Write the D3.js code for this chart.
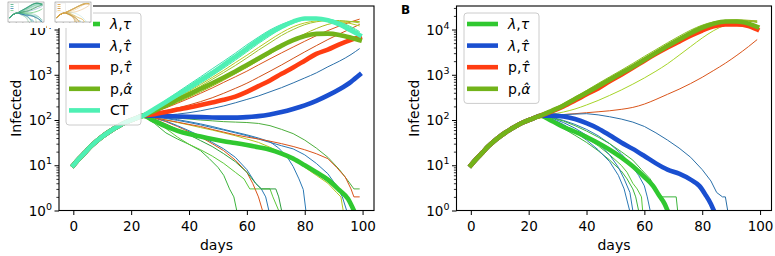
<!DOCTYPE html>
<html>
<head>
<meta charset="utf-8">
<script src="https://cdn.jsdelivr.net/npm/d3@7"></script>
<style>
body { margin: 0; background: #fff; }
text { font-family: "DejaVu Sans", sans-serif; }
</style>
</head>
<body>
<svg id="fig" width="775" height="256"></svg>
<script>
// ---- data ----
const earlyDays = [0, 2, 4, 6, 8, 10, 12, 14, 16, 18, 20, 22, 24];
const earlyVals = [10, 14, 19, 26, 34, 43, 53, 64, 76, 88, 100, 112, 124];
const gridDays = [28, 32, 36, 40, 44, 48, 52, 56, 60, 64, 68, 72, 76, 80, 84, 88, 92, 96, 99];
const xTicks = [0, 20, 40, 60, 80, 100];
const yTicks = [1, 10, 100, 1000, 10000];

// panel A, rising runs (values on gridDays)
const A_ct = [175, 250, 360, 520, 760, 1100, 1650, 2500, 3800, 5800, 8500, 11500, 15000, 17500, 17500, 16000, 13000, 9500, 7500];
const A_ct1 = [185, 275, 410, 610, 900, 1350, 2000, 3000, 4600, 6800, 9800, 13000, 16000, 17500, 17000, 15000, 12000, 9000, 7000];
const A_ct2 = [165, 225, 320, 450, 650, 950, 1400, 2100, 3200, 4900, 7300, 10500, 13800, 16500, 17500, 16800, 14500, 11000, 8500];
const A_ct3 = [180, 260, 380, 560, 820, 1200, 1800, 2700, 4100, 6200, 9000, 12300, 15500, 17300, 17200, 15500, 12500, 9200, 7200];
const A_ct4 = [170, 240, 340, 490, 700, 1020, 1500, 2300, 3500, 5300, 7900, 11000, 14500, 17000, 17800, 17000, 14800, 11500, 9000];
const A_pa = [160, 210, 280, 370, 490, 650, 870, 1180, 1650, 2300, 3200, 4400, 5800, 7200, 8000, 8100, 7600, 6600, 5800];
const A_pa1 = [165, 225, 310, 430, 610, 870, 1250, 1850, 2700, 4000, 5900, 8500, 11500, 14000, 15500, 15800, 15000, 13500, 12000];
const A_pa2 = [160, 215, 290, 400, 560, 790, 1120, 1600, 2350, 3500, 5100, 7400, 10000, 12800, 14800, 15800, 15800, 15000, 14000];
const A_pa3 = [150, 190, 245, 320, 420, 560, 760, 1050, 1450, 2050, 2900, 4100, 5800, 8000, 10500, 13000, 14500, 15000, 15000];
const A_pt = [135, 150, 170, 190, 215, 245, 280, 330, 420, 560, 750, 1050, 1450, 2050, 2900, 3600, 4700, 5900, 6800];
const A_pt1 = [150, 185, 235, 300, 390, 510, 680, 900, 1200, 1650, 2250, 3050, 4100, 5500, 7300, 9500, 12000, 14800, 17000];
const A_pt2 = [140, 160, 185, 215, 255, 310, 390, 500, 650, 880, 1200, 1650, 2300, 3200, 4400, 6000, 8000, 10500, 13000];
const A_lh = [124, 122, 120, 118, 116, 114, 113, 113, 116, 122, 133, 150, 175, 210, 265, 350, 480, 700, 1000];
const A_lh1 = [125, 128, 135, 145, 160, 180, 205, 240, 285, 340, 420, 520, 660, 850, 1100, 1500, 2000, 2800, 3800];

// panel A, dying-out runs ([day, infected])
const A_lt = [[28, 95], [32, 72], [36, 58], [40, 49], [44, 43], [48, 38], [52, 34], [56, 31], [60, 28], [64, 25], [68, 22], [72, 18], [76, 14], [80, 10], [84, 7], [88, 4.8], [92, 2.8], [95, 1.8], [97, 1]];
const A_d1 = [[28, 85], [32, 52], [36, 38], [40, 29], [44, 21], [47, 14], [50, 9], [52, 6], [54, 3], [55.5, 2], [56.5, 1]];
const A_d2 = [[28, 95], [32, 65], [36, 42], [40, 29], [44, 22], [48, 16], [52, 11], [56, 7], [59, 5], [61, 3], [68, 3], [69, 2], [71, 1]];
const A_d3 = [[28, 110], [32, 92], [36, 72], [40, 55], [44, 42], [48, 30], [52, 21], [56, 13], [60, 7], [62, 4], [64, 2], [65.4, 1]];
const A_d4 = [[28, 112], [32, 95], [36, 75], [40, 58], [44, 44], [48, 32], [52, 23], [56, 15], [60, 8], [63, 4], [65, 3], [66.5, 2], [67.6, 1]];
const A_d5 = [[28, 105], [32, 82], [36, 62], [40, 47], [44, 35], [48, 26], [52, 18], [56, 12], [60, 7], [63, 4], [65, 3], [70, 3], [71, 2], [72, 1]];
const A_d6 = [[28, 120], [32, 112], [36, 102], [40, 92], [44, 82], [48, 72], [52, 62], [56, 54], [60, 47], [64, 40], [68, 33], [71, 24], [74, 15], [76, 9.4], [78, 5], [79.5, 2.9], [80.4, 1]];
const A_d7 = [[28, 115], [32, 100], [36, 88], [40, 78], [44, 68], [48, 60], [52, 52], [56, 45], [60, 38], [64, 32], [68, 25], [72, 19], [76, 14], [80, 9], [84, 6], [88, 4], [91, 2.5], [92.5, 2], [93.3, 1]];
const A_d8 = [[28, 118], [32, 108], [36, 98], [40, 88], [44, 78], [48, 68], [52, 60], [56, 52], [60, 45], [64, 38], [68, 32], [72, 27], [76, 23], [80, 17], [84, 11], [88, 6.5], [91, 3.5], [93, 2], [94.5, 1]];
const A_d9 = [[28, 120], [32, 115], [36, 110], [40, 105], [44, 100], [48, 96], [52, 92], [56, 90], [60, 88], [64, 84], [68, 75], [72, 62], [76, 50], [80, 36], [84, 24], [88, 15], [92, 8], [95, 4.5], [97, 3], [99, 3]];
const A_d10 = [[28, 112], [32, 100], [36, 90], [40, 80], [44, 72], [48, 62], [52, 54], [56, 47], [60, 42], [64, 38], [68, 34], [72, 30], [76, 26], [80, 22], [84, 18], [88, 14], [91, 9], [94, 5.5], [96, 3], [97, 2], [99, 2]];

// panel B, rising runs (values on gridDays)
const B_pa = [160, 210, 290, 400, 560, 780, 1080, 1500, 2150, 3050, 4300, 6000, 8300, 11000, 13500, 15000, 15000, 13500, 11500];
const B_pt = [155, 200, 270, 370, 500, 720, 1000, 1420, 2050, 2900, 4000, 5400, 7300, 9500, 11800, 13000, 13000, 12000, 10000];
const B_pa1 = [165, 220, 305, 425, 600, 840, 1180, 1650, 2350, 3350, 4700, 6600, 9000, 11800, 14200, 15700, 16200, 16000, 15500];
const B_pa2 = [170, 230, 320, 450, 640, 900, 1260, 1780, 2550, 3600, 5100, 7100, 9700, 12500, 14800, 16000, 16300, 15800, 14800];
const B_pa3 = [162, 215, 298, 415, 585, 820, 1150, 1600, 2280, 3250, 4550, 6350, 8700, 11400, 13800, 15400, 15800, 15300, 14300];
const B_pa4 = [135, 150, 175, 215, 270, 350, 460, 620, 850, 1200, 1750, 2700, 4200, 6500, 9500, 12500, 14500, 15500, 15500];
const B_pt1 = [128, 132, 138, 145, 152, 160, 172, 190, 225, 285, 370, 480, 640, 880, 1250, 1800, 2700, 4200, 6000];

// panel B, dying-out runs ([day, infected])
const B_lt = [[28, 95], [32, 70], [36, 55], [40, 42], [44, 31], [48, 22], [52, 15], [56, 9.5], [60, 5.5], [63, 3.5], [65, 2.2], [67, 1.4], [68, 1]];
const B_lh = [[28, 125], [32, 120], [36, 105], [40, 85], [44, 65], [48, 46], [52, 32], [56, 23], [60, 16], [64, 11], [68, 8], [72, 6.5], [76, 4.8], [79, 3.5], [81, 2.3], [83, 1.4], [84, 1]];
const B_lh1 = [[28, 128], [32, 132], [36, 135], [40, 138], [44, 130], [48, 118], [52, 105], [56, 90], [60, 72], [64, 52], [68, 36], [72, 24], [76, 15], [80, 8], [83, 4.5], [85, 2.5], [87, 2], [88, 2], [88.8, 1]];
const B_d1 = [[28, 90], [32, 65], [36, 46], [40, 32], [44, 21], [48, 13], [52, 7.5], [54, 5], [56, 3], [57, 2], [58, 1]];
const B_d2 = [[28, 100], [32, 78], [36, 58], [40, 40], [44, 27], [48, 17], [52, 10], [54, 7], [56, 4], [57.5, 3], [59, 2], [59.4, 1]];
const B_d3 = [[28, 105], [32, 80], [36, 55], [40, 36], [44, 22], [48, 12], [51, 6], [53, 3], [54.9, 1]];
const B_d4 = [[28, 110], [32, 88], [36, 66], [40, 46], [44, 30], [48, 17], [51, 9], [53, 5], [55, 2.5], [56, 1]];
const B_d5 = [[28, 115], [32, 98], [36, 80], [40, 62], [44, 45], [48, 30], [52, 18], [55, 11], [58, 6], [60, 3.5], [61, 2], [62, 1]];
const B_d6 = [[28, 112], [32, 95], [36, 75], [40, 57], [44, 42], [48, 30], [52, 20], [56, 13], [59, 8], [62, 5], [64, 3], [66, 2], [71, 2], [71.5, 1]];

const legendA = ["λ,τ", "λ,τ\u0302", "p,τ\u0302", "p,α\u0302", "CT"];
const legendB = ["λ,τ", "λ,τ\u0302", "p,τ\u0302", "p,α\u0302"];

// ---- styles ----
const C = {lt: "#30c830", lh: "#1a4fd0", pt: "#ff3d12", pa: "#72b31a", ct: "#4ef0b4"};
const THICK = 4.6, THIN = 1;

const early = earlyDays.map((d, i) => [d, earlyVals[i]]);
const grid = vals => early.concat(gridDays.map((d, i) => [d, vals[i]]));
const pairs = p => early.concat(p);

const seriesA = [
    {d: grid(A_pt2), c: "#d05018", w: THIN},
    {d: grid(A_pt1), c: "#d9541a", w: THIN},
    {d: grid(A_lh1), c: "#2b6fa8", w: THIN},
    {d: grid(A_pa3), c: "#a8b818", w: THIN},
    {d: grid(A_pa2), c: "#9ec22a", w: THIN},
    {d: grid(A_pa1), c: "#b8c820", w: THIN},
    {d: grid(A_ct1), c: "#3fe0b0", w: THIN},
    {d: grid(A_ct2), c: "#45e6a8", w: THIN},
    {d: grid(A_ct3), c: "#38d8b8", w: THIN},
    {d: grid(A_ct4), c: "#50eaa0", w: THIN},
    {d: pairs(A_d1), c: "#3cb43c", w: THIN, jag: true},
    {d: pairs(A_d2), c: "#5cc83a", w: THIN, jag: true},
    {d: pairs(A_d3), c: "#d95319", w: THIN, jag: true},
    {d: pairs(A_d4), c: "#2a78b4", w: THIN, jag: true},
    {d: pairs(A_d5), c: "#2e9e3e", w: THIN, jag: true},
    {d: pairs(A_d6), c: "#2a78b4", w: THIN, jag: true},
    {d: pairs(A_d7), c: "#b4c41e", w: THIN, jag: true},
    {d: pairs(A_d8), c: "#2a78b4", w: THIN, jag: true},
    {d: pairs(A_d9), c: "#4cae3c", w: THIN, jag: true},
    {d: pairs(A_d10), c: "#d95319", w: THIN, jag: true},
    {d: pairs(A_lt), c: C.lt, w: THICK},
    {d: grid(A_lh), c: C.lh, w: THICK},
    {d: grid(A_pt), c: C.pt, w: THICK},
    {d: grid(A_pa), c: C.pa, w: THICK},
    {d: grid(A_ct), c: C.ct, w: THICK}
];

const seriesB = [
    {d: grid(B_pt1), c: "#d9541a", w: THIN},
    {d: grid(B_pa4), c: "#a6d428", w: THIN},
    {d: grid(B_pa3), c: "#a0a418", w: THIN},
    {d: grid(B_pa2), c: "#8cc020", w: THIN},
    {d: grid(B_pa1), c: "#9cb42a", w: THIN},
    {d: pairs(B_d1), c: "#3cb43c", w: THIN, jag: true},
    {d: pairs(B_d2), c: "#58c838", w: THIN, jag: true},
    {d: pairs(B_d3), c: "#2a78b4", w: THIN, jag: true},
    {d: pairs(B_d4), c: "#2a78b4", w: THIN, jag: true},
    {d: pairs(B_d5), c: "#2a78b4", w: THIN, jag: true},
    {d: pairs(B_d6), c: "#3cb43c", w: THIN, jag: true},
    {d: pairs(B_lh1), c: "#2a6fa8", w: THIN, jag: true},
    {d: pairs(B_lt), c: C.lt, w: THICK},
    {d: pairs(B_lh), c: C.lh, w: THICK},
    {d: grid(B_pt), c: C.pt, w: THICK},
    {d: grid(B_pa), c: C.pa, w: THICK}
];

const svg = d3.select("#fig");
const TOP = 6, BOTTOM = 210.5, YMAX = Math.pow(10, 4.52);

const greekLabel = function(sel, label){
    // greek letters in oblique, as matplotlib mathtext does
    const parts = label.match(/[λτα]\u0302?|[^λτα]+/g);
    parts.forEach(function(p){
        sel.append("tspan")
            .attr("font-style", /[λτα]/.test(p) ? "italic" : "normal")
            .text(p);
    });
};

const drawPanel = function(id, x0, x1, series, legend, legendBox){
    let g = svg.append("g").attr("id", id);
    let xScale = d3.scaleLinear().domain([-4.95, 103.95]).range([x0, x1]);
    let yScale = d3.scaleLog().domain([1, YMAX]).range([BOTTOM, TOP]);

    g.append("clipPath").attr("id", "clip" + id)
        .append("rect").attr("x", x0).attr("y", TOP).attr("width", x1 - x0).attr("height", BOTTOM - TOP);

    let plot = g.append("g").attr("clip-path", "url(#clip" + id + ")");
    series.forEach(function(s){
        let line = d3.line()
            .x(d => xScale(d[0]))
            .y(d => yScale(d[1]))
            .curve(s.jag ? d3.curveLinear : d3.curveMonotoneX);
        plot.append("path")
            .datum(s.d)
            .attr("d", line)
            .attr("fill", "none")
            .attr("stroke", s.c)
            .attr("stroke-width", s.w)
            .attr("stroke-linejoin", "round")
            .attr("stroke-linecap", s.w > 2 ? "square" : "butt");
    });

    // x axis
    let xAxis = g.append("g").attr("transform", "translate(0," + BOTTOM + ")")
        .call(d3.axisBottom(xScale).tickValues(xTicks).tickSize(4.5).tickPadding(6));
    xAxis.select(".domain").remove();
    xAxis.selectAll("text").attr("font-size", 13.5).attr("fill", "#000").attr("font-family", "DejaVu Sans");
    xAxis.selectAll("line").attr("stroke", "#000").attr("stroke-width", 1);

    // y axis, major + minor log ticks
    let minors = [];
    [1, 10, 100, 1000, 10000].forEach(function(b){
        for (let k = 2; k <= 9; k++){ if (b * k < YMAX) minors.push(b * k); }
    });
    let yMinor = g.append("g").attr("transform", "translate(" + x0 + ",0)")
        .call(d3.axisLeft(yScale).tickValues(minors).tickSize(2.6).tickFormat(""));
    yMinor.select(".domain").remove();
    yMinor.selectAll("line").attr("stroke", "#000").attr("stroke-width", 0.8);
    let yMajor = g.append("g").attr("transform", "translate(" + x0 + ",0)")
        .call(d3.axisLeft(yScale).tickValues(yTicks).tickSize(4.5).tickFormat(""));
    yMajor.select(".domain").remove();
    yMajor.selectAll("line").attr("stroke", "#000").attr("stroke-width", 1);

    yTicks.forEach(function(v){
        let t = g.append("text")
            .attr("x", x0 - 7)
            .attr("y", yScale(v) + 5)
            .attr("text-anchor", "end")
            .attr("font-size", 13.5);
        t.append("tspan").text("10");
        t.append("tspan").attr("font-size", 9.5).attr("dy", -6).text(String(Math.round(Math.log10(v))));
    });

    // frame
    g.append("rect")
        .attr("x", x0).attr("y", TOP).attr("width", x1 - x0).attr("height", BOTTOM - TOP)
        .attr("fill", "none").attr("stroke", "#000").attr("stroke-width", 1.1);

    // labels
    g.append("text")
        .attr("x", (x0 + x1) / 2).attr("y", 250)
        .attr("text-anchor", "middle").attr("font-size", 14)
        .text("days");
    g.append("text")
        .attr("transform", "translate(" + (x0 - 38) + "," + ((TOP + BOTTOM) / 2) + ") rotate(-90)")
        .attr("text-anchor", "middle").attr("font-size", 14)
        .text("Infected");

    // legend
    let cols = [C.lt, C.lh, C.pt, C.pa, C.ct];
    let lg = g.append("g");
    lg.append("rect")
        .attr("x", legendBox.x).attr("y", 13).attr("width", 75)
        .attr("height", legend.length * 21.6 + 4)
        .attr("rx", 3)
        .attr("fill", "#fff").attr("fill-opacity", 0.8)
        .attr("stroke", "#cccccc").attr("stroke-width", 1);
    legend.forEach(function(lab, i){
        let yy = 24 + i * 21.6;
        lg.append("line")
            .attr("x1", legendBox.x + 3).attr("x2", legendBox.x + 34)
            .attr("y1", yy).attr("y2", yy)
            .attr("stroke", cols[i]).attr("stroke-width", THICK);
        let t = lg.append("text")
            .attr("x", legendBox.x + 44).attr("y", yy + 5)
            .attr("font-size", 14);
        greekLabel(t, lab);
    });
    return {x: xScale, y: yScale};
};

drawPanel("A", 59, 374, seriesA, legendA, {x: 66});
drawPanel("B", 456.5, 771.5, seriesB, legendB, {x: 464});

svg.append("text")
    .attr("x", 401).attr("y", 13.5)
    .attr("font-size", 12).attr("font-weight", "bold")
    .text("B");

// small thumbnails in the top-left corner
const drawThumb = function(gx, series, palette){
    let t = svg.append("g");
    t.append("rect").attr("x", gx).attr("y", 0).attr("width", 46).attr("height", 28).attr("fill", "#fff");
    let tx = d3.scaleLinear().domain([-4.95, 103.95]).range([gx + 8, gx + 44]);
    let ty = d3.scaleLog().domain([1, YMAX]).range([22, 2]);
    t.append("rect").attr("x", gx + 8).attr("y", 2).attr("width", 36).attr("height", 20)
        .attr("fill", "none").attr("stroke", "#777").attr("stroke-width", 0.5);
    series.forEach(function(s, i){
        t.append("path")
            .datum(s.d)
            .attr("d", d3.line().x(d => tx(d[0])).y(d => ty(d[1])).curve(d3.curveMonotoneX))
            .attr("fill", "none")
            .attr("stroke", palette[i % palette.length])
            .attr("stroke-width", s.w > 2 ? 0.9 : 0.4)
            .attr("opacity", 0.85);
    });
    t.append("rect").attr("x", gx + 9.5).attr("y", 3).attr("width", 9).attr("height", 9)
        .attr("fill", "#fff").attr("fill-opacity", 0.8).attr("stroke", "#ccc").attr("stroke-width", 0.3);
    palette.slice(0, 4).forEach(function(c, i){
        t.append("line").attr("x1", gx + 10.5).attr("x2", gx + 13.5)
            .attr("y1", 4.5 + i * 2).attr("y2", 4.5 + i * 2)
            .attr("stroke", c).attr("stroke-width", 0.7);
    });
    // tiny tick marks
    [0, 20, 40, 60, 80, 100].forEach(function(d){
        t.append("line").attr("x1", tx(d)).attr("x2", tx(d)).attr("y1", 22).attr("y2", 23)
            .attr("stroke", "#777").attr("stroke-width", 0.4);
    });
};
drawThumb(0, seriesA, ["#2e9e6e", "#3cb0a0", "#1f6fa8", "#5cc870", "#2a9050", "#88d0b8"]);
drawThumb(47, seriesB, ["#d98a20", "#e0b040", "#b86a10", "#f0c060", "#3aa0a0", "#90d0c8"]);
</script>
</body>
</html>
